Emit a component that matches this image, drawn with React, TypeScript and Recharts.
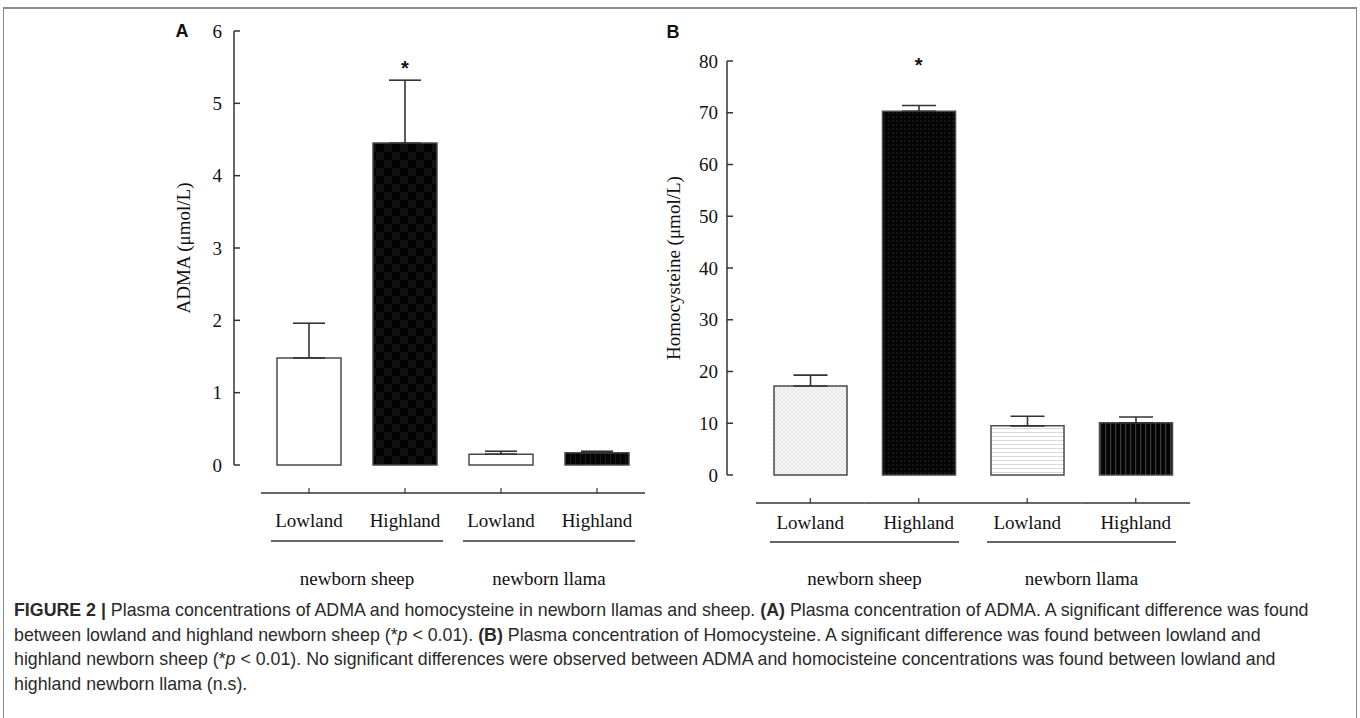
import { BarChart, Bar, XAxis, YAxis, ErrorBar, Cell, ReferenceDot } from 'recharts';

const categories = ['Lowland', 'Highland', 'Lowland', 'Highland'];
const groups = ['newborn sheep', 'newborn llama'];
const keys = ['sheep-low', 'sheep-high', 'llama-low', 'llama-high'];

const admaMean = [1.48, 4.45, 0.15, 0.17];
const admaErr = [0.48, 0.87, 0.04, 0.02];
const admaTicks = [0, 1, 2, 3, 4, 5, 6];
const admaStar = [null, 5.49, null, null];

const hcyMean = [17.2, 70.3, 9.5, 10.1];
const hcyErr = [2.1, 1.1, 1.85, 1.1];
const hcyTicks = [0, 10, 20, 30, 40, 50, 60, 70, 80];
const hcyStar = [null, 79.3, null, null];

const SERIF = '"Liberation Serif", "DejaVu Serif", serif';
const SANS = '"Liberation Sans", Arial, sans-serif';

const captionLines = [
  [
    { b: true, t: 'FIGURE 2 | ' },
    { t: 'Plasma concentrations of ADMA and homocysteine in newborn llamas and sheep. ' },
    { b: true, t: '(A)' },
    { t: ' Plasma concentration of ADMA. A significant difference was found' },
  ],
  [
    { t: 'between lowland and highland newborn sheep (*' },
    { i: true, t: 'p' },
    { t: ' < 0.01). ' },
    { b: true, t: '(B)' },
    { t: ' Plasma concentration of Homocysteine. A significant difference was found between lowland and' },
  ],
  [
    { t: 'highland newborn sheep (*' },
    { i: true, t: 'p' },
    { t: ' < 0.01). No significant differences were observed between ADMA and homocisteine concentrations was found between lowland and' },
  ],
  [{ t: 'highland newborn llama (n.s).' }],
];

type Cfg = {
  band: number;
  axisGap: number;
  labelGap: number;
  lineGap: number;
  textGap: number;
  inset: number;
};

function GroupTick(props: any) {
  const { x, y, payload, cfg } = props;
  const c: Cfg = cfg;
  const i = payload.index ?? props.index ?? 0;
  const half = c.band / 2;
  const ay = y + c.axisGap;
  return (
    <g>
      <line x1={x - half} x2={x + half} y1={ay} y2={ay} stroke="#333" strokeWidth={1.5} />
      <line x1={x} x2={x} y1={ay} y2={ay - 5} stroke="#333" strokeWidth={1.2} />
      <text x={x} y={y + c.labelGap} textAnchor="middle" dominantBaseline="central"
        fontFamily={SERIF} fontSize={19} fill="#111">
        {categories[i]}
      </text>
      {i % 2 === 0 && (
        <g>
          <line x1={x - half + c.inset} x2={x + 3 * half - c.inset} y1={y + c.lineGap} y2={y + c.lineGap}
            stroke="#333" strokeWidth={1.5} />
          <text x={x + half} y={y + c.textGap} textAnchor="middle" dominantBaseline="central"
            fontFamily={SERIF} fontSize={19} fill="#111">
            {groups[i / 2]}
          </text>
        </g>
      )}
    </g>
  );
}

function Patterns() {
  return (
    <defs>
      <pattern id="checkA" patternUnits="userSpaceOnUse" width={16} height={16}>
        <rect width={16} height={16} fill="#030303" />
        <rect width={8} height={8} fill="#111111" />
        <rect x={8} y={8} width={8} height={8} fill="#111111" />
      </pattern>
      <pattern id="vlinesA" patternUnits="userSpaceOnUse" width={5} height={5}>
        <rect width={5} height={5} fill="#050505" />
        <rect width={1} height={5} fill="#1a1a1a" />
      </pattern>
      <pattern id="hatchB" patternUnits="userSpaceOnUse" width={4} height={4}>
        <rect width={4} height={4} fill="#f6f6f6" />
        <path d="M0,4 L4,0 M0,0 L4,4" stroke="#e2e2e2" strokeWidth={0.7} />
      </pattern>
      <pattern id="dotB" patternUnits="userSpaceOnUse" width={4} height={4}>
        <rect width={4} height={4} fill="#050505" />
        <rect width={2} height={2} fill="#151515" />
      </pattern>
      <pattern id="hlinesB" patternUnits="userSpaceOnUse" width={4} height={4}>
        <rect width={4} height={4} fill="#ffffff" />
        <rect width={4} height={1} fill="#d9d9d9" />
      </pattern>
      <pattern id="vlinesB" patternUnits="userSpaceOnUse" width={5} height={5}>
        <rect width={5} height={5} fill="#050505" />
        <rect width={1.2} height={5} fill="#3a3a3a" />
      </pattern>
    </defs>
  );
}

type PanelProps = {
  left: number;
  width: number;
  height: number;
  margin: { top: number; right: number; bottom: number; left: number };
  yWidth: number;
  xHeight: number;
  padLeft: number;
  barSize: number;
  capWidth: number;
  means: number[];
  errs: number[];
  ticks: number[];
  star: (number | null)[];
  fills: string[];
  yLabel: string;
  yLabelX: number;
  tickMargin: number;
  cfg: Cfg;
  letter: string;
  letterX: number;
  letterY: number;
};

function Panel(p: PanelProps) {
  const data = keys.map((k, i) => ({ key: k, value: p.means[i], err: [0, p.errs[i]] }));
  const max = p.ticks[p.ticks.length - 1];
  return (
    <div style={{ position: 'absolute', left: p.left, top: 0 }}>
      <BarChart width={p.width} height={p.height} data={data} margin={p.margin}>
        <Patterns />
        <XAxis dataKey="key" axisLine={false} tickLine={false} tickSize={0} tickMargin={0}
          height={p.xHeight} padding={{ left: p.padLeft, right: 0 }} interval={0}
          tick={(t: any) => <GroupTick {...t} cfg={p.cfg} />} />
        <YAxis type="number" domain={[0, max]} ticks={p.ticks} interval={0} width={p.yWidth}
          stroke="#333" strokeWidth={1.5} tickSize={-6} tickMargin={p.tickMargin}
          tick={{ fontFamily: SERIF, fontSize: 19, fill: '#111' }}
          label={{
            content: (l: any) => {
              const vb = l.viewBox;
              const cy = vb.y + vb.height / 2;
              return (
                <text x={p.yLabelX} y={cy} transform={`rotate(-90 ${p.yLabelX} ${cy})`}
                  textAnchor="middle" dominantBaseline="central" fontFamily={SERIF}
                  fontSize={19} fill="#111">
                  {p.yLabel}
                </text>
              );
            },
          }} />
        <Bar dataKey="value" barSize={p.barSize} isAnimationActive={false}>
          {data.map((d, i) => (
            <Cell key={d.key} fill={p.fills[i]} stroke="#4a4a4a" strokeWidth={1.5} />
          ))}
          <ErrorBar dataKey="err" width={p.capWidth} stroke="#333" strokeWidth={1.6} />
        </Bar>
        {p.star.map((s, i) =>
          s === null ? null : (
            <ReferenceDot key={keys[i]} x={keys[i]} y={s} r={0}
              shape={(d: any) => (
                <text x={d.cx} y={d.cy} textAnchor="middle" dominantBaseline="central"
                  fontFamily={SANS} fontWeight="bold" fontSize={20} fill="#111">
                  *
                </text>
              )} />
          ),
        )}
        <text x={p.letterX} y={p.letterY} textAnchor="middle" dominantBaseline="central"
          fontFamily={SANS} fontWeight="bold" fontSize={18} fill="#111">
          {p.letter}
        </text>
      </BarChart>
    </div>
  );
}

export default function App() {
  return (
    <div style={{ position: 'absolute', left: 0, top: 0, width: 1360, height: 718, background: '#fff', overflow: 'hidden' }}>
      <div style={{ position: 'absolute', left: 3, top: 7, width: 1352, height: 740, borderTop: '2px solid #8a8a8a', borderLeft: '1px solid #8a8a8a', borderRight: '1px solid #8a8a8a' }} />
      <Panel
        left={0} width={680} height={620}
        margin={{ top: 31, right: 35, bottom: 25, left: 0 }}
        yWidth={234} xHeight={130} padLeft={27} barSize={64} capWidth={16}
        means={admaMean} errs={admaErr} ticks={admaTicks} star={admaStar}
        fills={['#ffffff', 'url(#checkA)', '#ffffff', 'url(#vlinesA)']}
        yLabel="ADMA (μmol/L)" yLabelX={183} tickMargin={18}
        cfg={{ band: 96, axisGap: 28, labelGap: 55, lineGap: 76, textGap: 113, inset: 10 }}
        letter="A" letterX={182} letterY={31}
      />
      <Panel
        left={660} width={700} height={620}
        margin={{ top: 61, right: 170, bottom: 25, left: 0 }}
        yWidth={67} xHeight={120} padLeft={29} barSize={73} capWidth={17}
        means={hcyMean} errs={hcyErr} ticks={hcyTicks} star={hcyStar}
        fills={['url(#hatchB)', 'url(#dotB)', 'url(#hlinesB)', 'url(#vlinesB)']}
        yLabel="Homocysteine (μmol/L)" yLabelX={13} tickMargin={15}
        cfg={{ band: 108.5, axisGap: 28, labelGap: 47, lineGap: 67, textGap: 103, inset: 14 }}
        letter="B" letterX={13} letterY={32}
      />
      <div style={{ position: 'absolute', left: 14, top: 598, fontFamily: SANS, fontSize: 17.8, color: '#2a2a2a', lineHeight: '24.6px', whiteSpace: 'nowrap' }}>
        {captionLines.map((line, li) => (
          <div key={li}>
            {line.map((s: any, si) => (
              <span key={si} style={{ fontWeight: s.b ? 'bold' : 'normal', fontStyle: s.i ? 'italic' : 'normal' }}>{s.t}</span>
            ))}
          </div>
        ))}
      </div>
    </div>
  );
}
